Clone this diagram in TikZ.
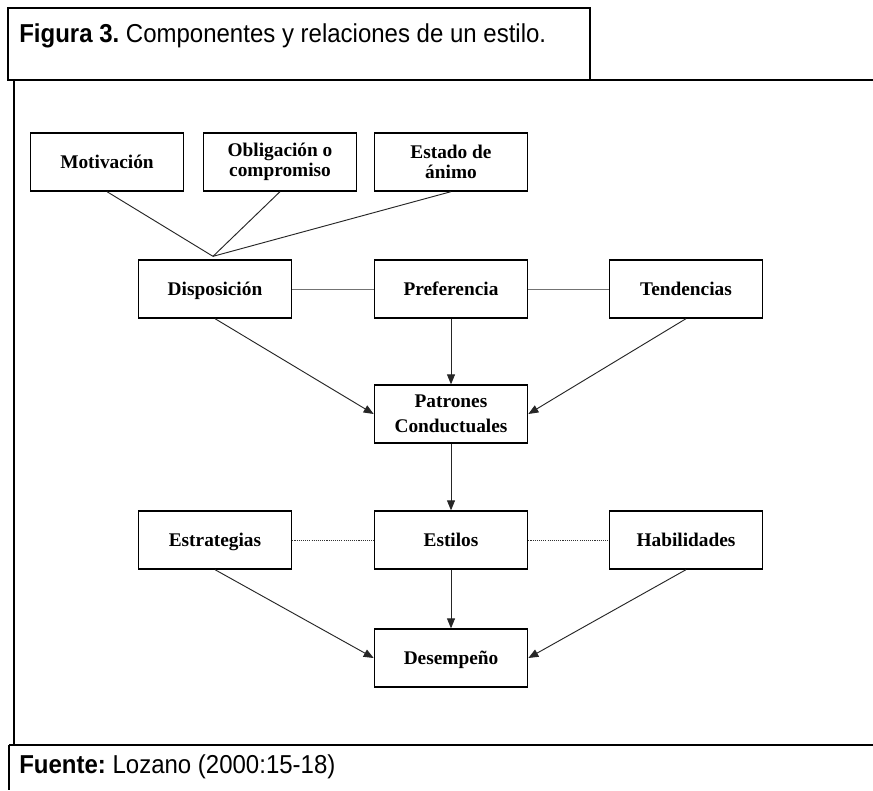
\documentclass[tikz,border=0pt]{standalone}
\usepackage{fontspec}
\usepackage{graphicx}
\setmainfont{Liberation Serif}
\newfontfamily\capfont{Liberation Sans}
\usetikzlibrary{arrows.meta,calc}
\frenchspacing
\begin{document}
\begin{tikzpicture}[x=0.75pt,y=-0.75pt,
  box/.style={draw=black,line width=1pt,minimum width=115pt,minimum height=43.5pt,inner sep=0pt,align=center,
    font=\fontsize{14.5}{15}\selectfont\bfseries},
  box1/.style={box,text height=11pt,text depth=2pt},
  conn/.style={draw=black!85,line width=0.7pt},
  arr/.style={conn,-{Triangle[length=7.5pt,width=6pt]}},
  hline/.style={draw=black!55,line width=0.7pt},
  dline/.style={draw=black!80,line width=0.7pt,dash pattern=on 0.8pt off 0.8pt},
  frame/.style={draw=black,line width=1.6pt},
  capt/.style={anchor=west,inner sep=0pt,font=\capfont\fontsize{18}{20}\selectfont}
]
\useasboundingbox (0,0) rectangle (873,790);
\fill[white] (0,0) rectangle (873,790);
% frame
\draw[draw=black,line width=1.1pt] (8,8) rectangle (590,80);
\draw[frame] (590,80) -- (873,80);
\draw[frame] (14,80) -- (14,745);
\draw[frame] (9,745) -- (873,745);
\draw[draw=black,line width=1.1pt] (9,745) -- (9,790);
\node[capt] (title) at (19,36) {\scalebox{1}[1.08]{\textbf{Figura 3.} Componentes y relaciones de un estilo.}};
\node[capt] (src) at (19,767) {\scalebox{1}[1.08]{\textbf{Fuente:} Lozano (2000:15-18)}};
% boxes
\node[box1] (mot) at (107,162) {Motivación};
\node[box] (obl) at (280,162) {Obligación o\\compromiso};
\node[box] (est) at (451,162) {Estado de\\ánimo};
\node[box1] (dis) at (215,289) {Disposición};
\node[box1] (pre) at (451,289) {Preferencia};
\node[box1] (ten) at (686,289) {Tendencias};
\node[box,font=\fontsize{14.5}{18.75}\selectfont\bfseries] (pat) at (451,414) {Patrones\\Conductuales};
\node[box1] (etr) at (215,540) {Estrategias};
\node[box1] (sty) at (451,540) {Estilos};
\node[box1] (hab) at (686,540) {Habilidades};
\node[box1] (des) at (451,658) {Desempeño};
% connectors
\coordinate (j) at ($(dis.north)+(-2,-3)$);
\draw[conn] (mot.south) -- (j);
\draw[conn] (obl.south) -- (j);
\draw[conn] (est.south) -- (j);
\draw[hline] (dis.east) -- (pre.west);
\draw[hline] (pre.east) -- (ten.west);
\draw[arr] (pre.south) -- (pat.north);
\draw[arr] (dis.south) -- (pat.west);
\draw[arr] (ten.south) -- (pat.east);
\draw[arr] (pat.south) -- (sty.north);
\draw[dline] (etr.east) -- (sty.west);
\draw[dline] (sty.east) -- (hab.west);
\draw[arr] (sty.south) -- (des.north);
\draw[arr] (etr.south) -- (des.west);
\draw[arr] (hab.south) -- (des.east);
\end{tikzpicture}
\end{document}
